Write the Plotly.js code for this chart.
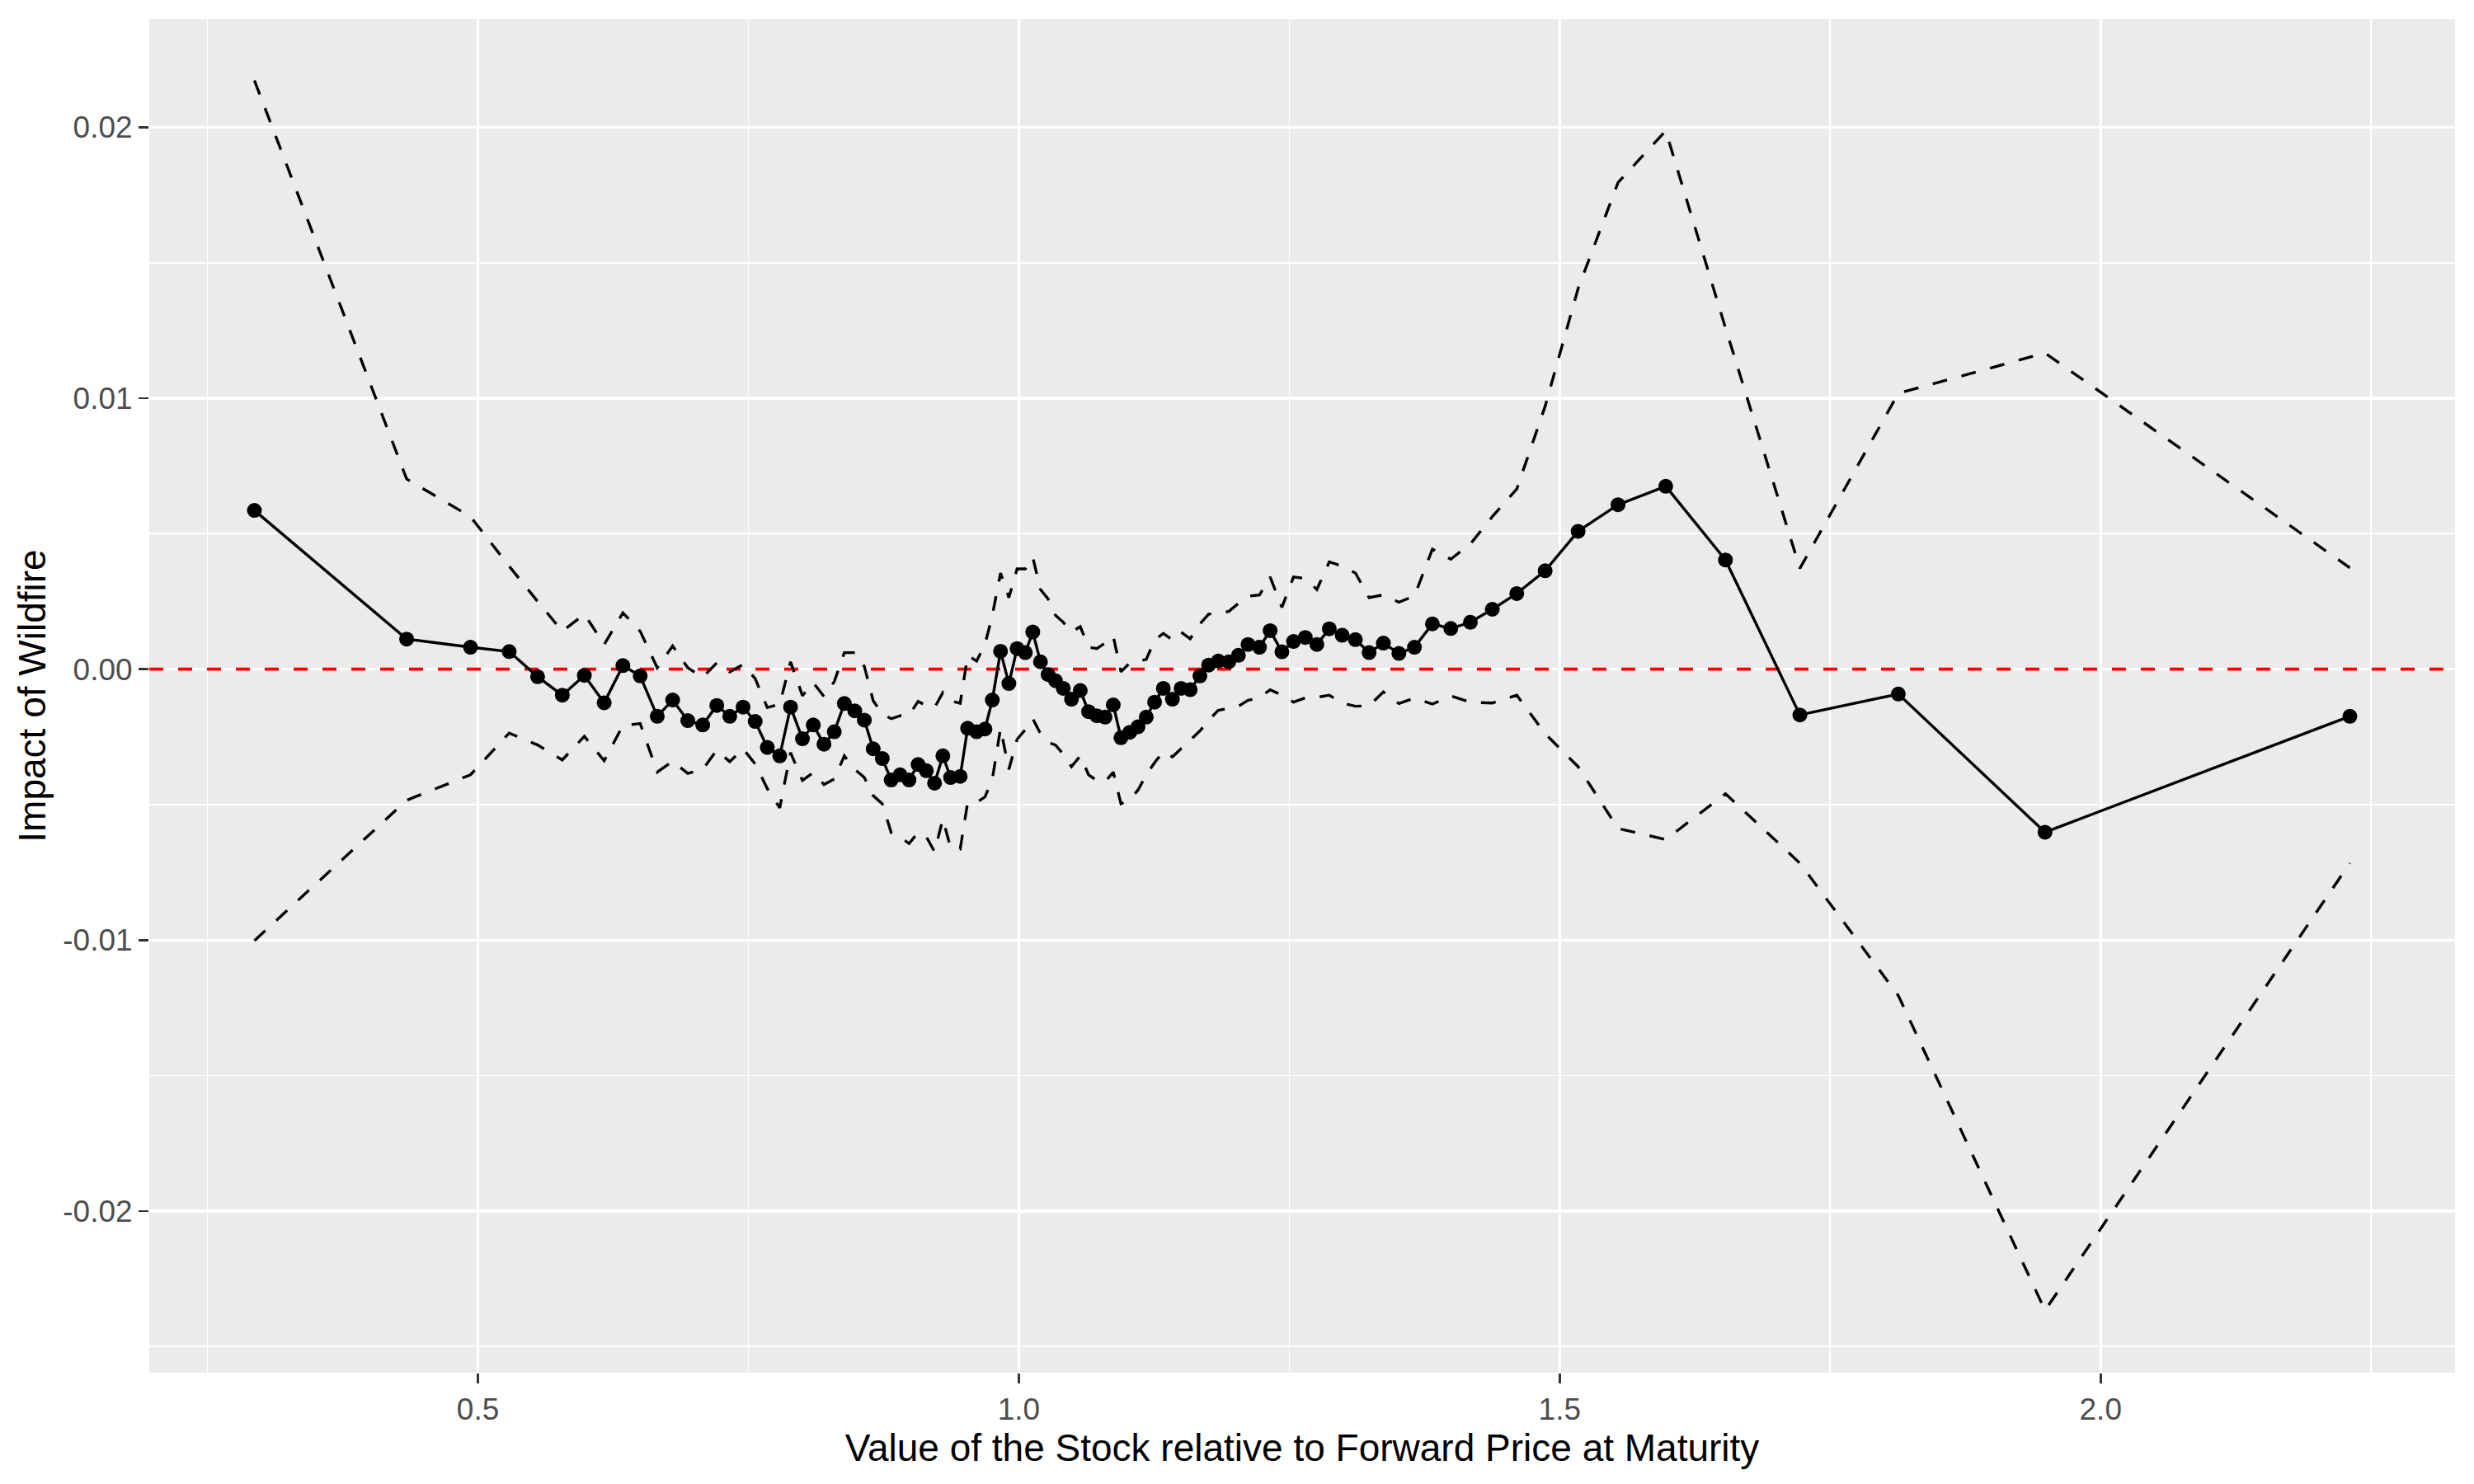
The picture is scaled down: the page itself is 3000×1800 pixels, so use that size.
<!DOCTYPE html>
<html>
<head>
<meta charset="utf-8">
<script src="https://cdn.plot.ly/plotly-3.0.1.min.js"></script>
<style>
  html, body { margin: 0; padding: 0; background: #ffffff; }
  #chart { width: 3000px; height: 1800px; }
</style>
</head>
<body>
<div id="chart"></div>
<script>
// Value of the stock relative to forward price at maturity
const moneyness = [
  0.2934, 0.4341, 0.4931, 0.5289, 0.5552, 0.578, 0.5984, 0.6167, 0.634, 0.650,
  0.6658, 0.680, 0.694, 0.7078, 0.7208, 0.7328, 0.7451, 0.7563, 0.7675, 0.779,
  0.789, 0.800, 0.810, 0.8199, 0.8294, 0.8387, 0.8484, 0.8572, 0.8654, 0.8738,
  0.882, 0.8903, 0.8985, 0.9069, 0.9145, 0.9221, 0.9298, 0.9369, 0.9458, 0.9527,
  0.961, 0.9687, 0.9755, 0.9831, 0.9908, 0.9984, 1.006, 1.0129, 1.02, 1.0271,
  1.034, 1.0411, 1.0487, 1.0568, 1.0645, 1.0721, 1.0797, 1.0873, 1.0944, 1.1026,
  1.1102, 1.1178, 1.1255, 1.1336, 1.142, 1.15, 1.1584, 1.1674, 1.1755, 1.1844,
  1.1941, 1.203, 1.2119, 1.2225, 1.2323, 1.2432, 1.2539, 1.2648, 1.2755, 1.287,
  1.2989, 1.3111, 1.3238, 1.337, 1.3513, 1.3657, 1.3823, 1.3993, 1.4174, 1.4377,
  1.4603, 1.4865, 1.517, 1.5539, 1.598, 1.6532, 1.722, 1.813, 1.9486, 2.2304
];

// Estimated impact of wildfire
const impact = [
  0.00586, 0.00111, 0.00081, 0.00065, -0.00028, -0.00096, -0.00023, -0.00124, 0.00013, -0.00025,
  -0.00174, -0.00114, -0.0019, -0.00206, -0.00134, -0.00174, -0.0014, -0.00193, -0.00289, -0.0032,
  -0.0014, -0.00257, -0.00206, -0.00277, -0.00231, -0.00127, -0.00154, -0.00188, -0.00294, -0.0033,
  -0.00409, -0.0039, -0.00409, -0.00352, -0.00375, -0.00421, -0.0032, -0.004, -0.00396, -0.00218,
  -0.00231, -0.00221, -0.00114, 0.00066, -0.00053, 0.00076, 0.00061, 0.00137, 0.00027, -0.0002,
  -0.00043, -0.00071, -0.00111, -0.00079, -0.00157, -0.00172, -0.00177, -0.00132, -0.00253, -0.00233,
  -0.00213, -0.00177, -0.00122, -0.00071, -0.00111, -0.00071, -0.00076, -0.00025, 0.00015, 0.0003,
  0.00027, 0.00051, 0.00091, 0.00081, 0.00142, 0.00064, 0.00102, 0.00117, 0.00091, 0.00149,
  0.00125, 0.00109, 0.00061, 0.00096, 0.00058, 0.00081, 0.00167, 0.0015, 0.00173, 0.00221,
  0.00279, 0.00363, 0.00509, 0.00607, 0.00675, 0.00403, -0.00169, -0.00092, -0.00602, -0.00174
];

// Upper confidence bound
const upperBound = [
  0.02173, 0.00702, 0.00563, 0.0038, 0.0025, 0.0014, 0.00203, 0.00091, 0.00208, 0.0014,
  0.00005, 0.00086, 0.00005, -0.0003, 0.00023, -0.0001, 0.00017, -0.00035, -0.00142, -0.00129,
  0.00027, -0.00098, -0.0005, -0.00101, -0.00046, 0.00061, 0.00061, 0.0001, -0.00117, -0.00165,
  -0.00183, -0.00172, -0.0017, -0.00119, -0.00135, -0.00142, -0.00086, -0.00117, -0.00126, 0.00051,
  0.0003, 0.00091, 0.00198, 0.00355, 0.00264, 0.0037, 0.0037, 0.00413, 0.00294, 0.00259,
  0.00198, 0.00173, 0.00137, 0.00157, 0.00081, 0.00076, 0.00096, 0.00122, -0.0001, 0.00023,
  0.00029, 0.00036, 0.00107, 0.00132, 0.00107, 0.00137, 0.00112, 0.00167, 0.00203, 0.00206,
  0.00213, 0.00243, 0.00269, 0.00274, 0.0034, 0.00228, 0.0034, 0.00335, 0.00294, 0.00396,
  0.0038, 0.00355, 0.00264, 0.00274, 0.00247, 0.0027, 0.00443, 0.00406, 0.00462, 0.00563,
  0.00665, 0.0097, 0.01405, 0.01796, 0.01987, 0.0126, 0.00372, 0.01018, 0.01167, 0.00374
];

// Lower confidence bound
const lowerBound = [
  -0.01002, -0.00484, -0.0039, -0.00236, -0.0028, -0.00335, -0.00248, -0.00338, -0.00208, -0.00201,
  -0.0038, -0.0034, -0.00385, -0.0037, -0.00299, -0.00342, -0.00294, -0.0035, -0.00441, -0.00512,
  -0.00308, -0.00411, -0.00382, -0.00426, -0.00406, -0.0032, -0.0037, -0.004, -0.00467, -0.00497,
  -0.00603, -0.00619, -0.00644, -0.00603, -0.00619, -0.00674, -0.00553, -0.00659, -0.00664, -0.00492,
  -0.00492, -0.00472, -0.00406, -0.00218, -0.0037, -0.00259, -0.00223, -0.00183, -0.00238, -0.00269,
  -0.00281, -0.00314, -0.0036, -0.0032, -0.0039, -0.00411, -0.00416, -0.0038, -0.00497, -0.00482,
  -0.00446, -0.0039, -0.00345, -0.00304, -0.00324, -0.00294, -0.00264, -0.00228, -0.00188, -0.00152,
  -0.00145, -0.00137, -0.00115, -0.00106, -0.00076, -0.00096, -0.00122, -0.00106, -0.00104, -0.00096,
  -0.00125, -0.00137, -0.00135, -0.00084, -0.00127, -0.00107, -0.00129, -0.00099, -0.00122, -0.00125,
  -0.00096, -0.00238, -0.0036, -0.00588, -0.00629, -0.0046, -0.00716, -0.01205, -0.02367, -0.00716
];

const xRange = [0.1962, 2.3276];
const yRange = [-0.02597, 0.0240];
const xTickVals = [0.5, 1.0, 1.5, 2.0];
const xTickText = ['0.5', '1.0', '1.5', '2.0'];
const xMinorVals = [0.25, 0.75, 1.25, 1.75, 2.25];
const yTickVals = [-0.02, -0.01, 0, 0.01, 0.02];
const yTickText = ['-0.02', '-0.01', '0.00', '0.01', '0.02'];
const yMinorVals = [-0.025, -0.015, -0.005, 0.005, 0.015];
const referenceLevel = 0;

const bandStyle = { color: '#000000', width: 3.4, dash: '18px,18px' };

const traces = [
  {
    // horizontal reference line at zero spanning the whole panel
    x: xRange, y: [referenceLevel, referenceLevel], type: 'scatter', mode: 'lines',
    line: { color: '#FF0000', width: 3.6, dash: '17px,18px' },
    hoverinfo: 'skip', showlegend: false, cliponaxis: true
  },
  {
    x: moneyness, y: upperBound, type: 'scatter', mode: 'lines',
    line: bandStyle, hoverinfo: 'skip', showlegend: false
  },
  {
    x: moneyness, y: lowerBound, type: 'scatter', mode: 'lines',
    line: bandStyle, hoverinfo: 'skip', showlegend: false
  },
  {
    x: moneyness, y: impact, type: 'scatter', mode: 'lines+markers',
    line: { color: '#000000', width: 3.4 },
    marker: { color: '#000000', size: 18 },
    showlegend: false
  }
];

const font = 'Liberation Sans, Arial, Helvetica, sans-serif';

const layout = {
  width: 3000,
  height: 1800,
  autosize: false,
  margin: { l: 181, r: 23, t: 23, b: 135, pad: 0 },
  paper_bgcolor: '#FFFFFF',
  plot_bgcolor: '#EBEBEB',
  showlegend: false,
  font: { family: font },
  xaxis: {
    range: xRange,
    tickvals: xTickVals,
    ticktext: xTickText,
    ticks: 'outside',
    ticklen: 12,
    tickwidth: 2.6,
    tickcolor: '#333333',
    tickfont: { family: font, size: 37, color: '#4D4D4D' },
    showgrid: true,
    gridcolor: '#FFFFFF',
    gridwidth: 3.4,
    minor: { tickvals: xMinorVals, showgrid: true, gridcolor: '#FFFFFF', gridwidth: 1.7, ticks: '' },
    zeroline: false,
    showline: false,
    automargin: false,
    title: {
      text: 'Value of the Stock relative to Forward Price at Maturity',
      font: { family: font, size: 46, color: '#000000' },
      standoff: 6
    }
  },
  yaxis: {
    range: yRange,
    tickvals: yTickVals,
    ticktext: yTickText,
    ticks: 'outside',
    ticklen: 12,
    tickwidth: 2.6,
    tickcolor: '#333333',
    tickfont: { family: font, size: 37, color: '#4D4D4D' },
    showgrid: true,
    gridcolor: '#FFFFFF',
    gridwidth: 3.4,
    minor: { tickvals: yMinorVals, showgrid: true, gridcolor: '#FFFFFF', gridwidth: 1.7, ticks: '' },
    zeroline: false,
    showline: false,
    automargin: false,
    title: {
      text: 'Impact of Wildfire',
      font: { family: font, size: 46, color: '#000000' },
      standoff: 6
    }
  }
};

Plotly.newPlot('chart', traces, layout, { displayModeBar: false, staticPlot: true });
</script>
</body>
</html>
